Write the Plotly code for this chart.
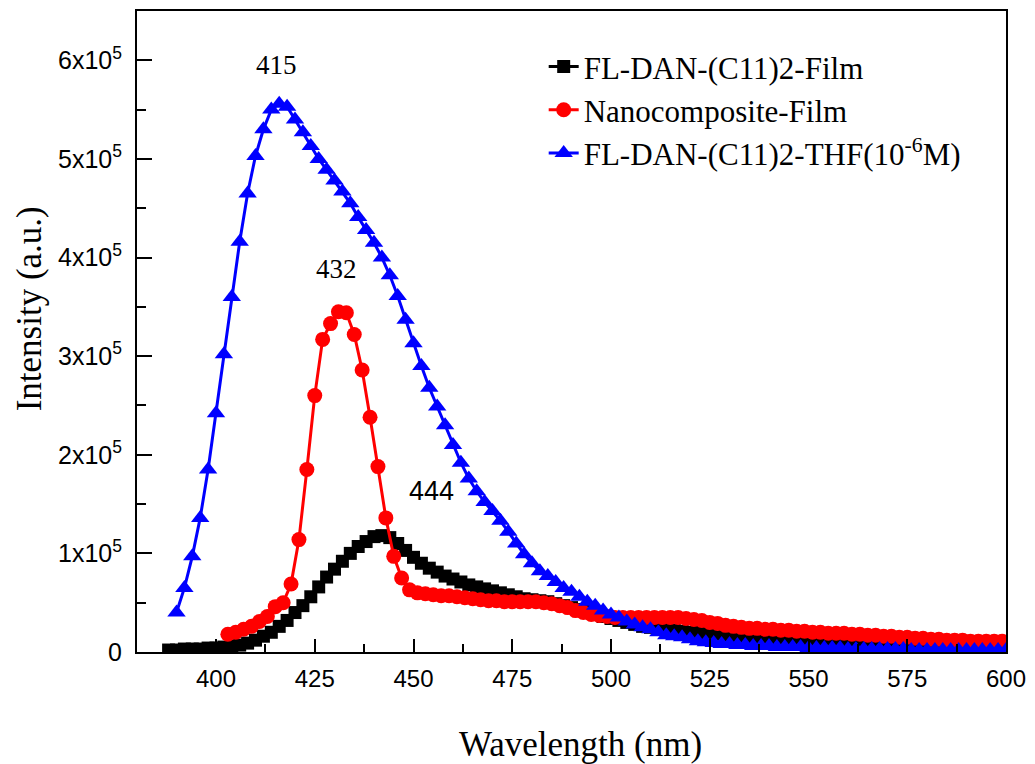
import plotly.graph_objects as go

# Wavelength grids (nm)
wl_film = list(range(388, 601, 2))
wl_nano = list(range(403, 600, 2))
wl_thf = list(range(390, 601, 2))

# Intensities in units of 1e3 (a.u.)
film = [2, 2, 3, 3, 3, 4, 4, 5, 6, 7, 9, 12, 16, 20, 26, 32, 40, 47, 56, 66,
        76, 84, 92, 100, 107, 112, 117, 118, 116, 110, 103, 96, 90, 85, 81, 77, 74, 71, 68, 66,
        64, 62, 60, 58, 56, 54, 53, 52, 51, 49, 47, 45, 43, 41, 38, 36, 34, 32, 30, 28,
        26, 25, 24, 23, 22, 21, 20, 20, 19, 19, 18, 17, 16, 15, 14, 13, 13, 12, 12, 11,
        11, 11, 10, 10, 10, 9, 9, 9, 8, 8, 8, 8, 7, 7, 7, 7, 7, 6, 6, 6,
        6, 6, 6, 5, 5, 5, 5]

nano = [18, 20, 23, 26, 31, 36, 46, 50, 69, 114, 185, 260, 317, 333, 345, 344, 322, 286, 238, 188,
        136, 97, 75, 63, 60, 59, 58, 57, 57, 56, 55, 54, 53, 52, 52, 51, 51, 51, 51, 51,
        50, 49, 47, 45, 42, 40, 38, 37, 36, 35, 35, 35, 35, 35, 35, 35, 35, 35, 34, 33,
        32, 30, 29, 27, 26, 25, 24, 24, 23, 23, 22, 22, 21, 21, 20, 20, 19, 19, 19, 18,
        18, 17, 17, 16, 16, 15, 15, 14, 14, 13, 13, 12, 12, 12, 11, 11, 11, 11, 11]

thf = [40, 65, 97, 136, 185, 242, 302, 360, 416, 465, 503, 530, 550, 556, 553, 540, 527, 513, 500, 489,
       478, 467, 455, 441, 428, 415, 400, 382, 361, 337, 313, 290, 268, 249, 230, 210, 192, 176, 163, 152,
       143, 133, 122, 110, 99, 90, 82, 77, 71, 65, 61, 56, 51, 47, 42, 38, 35, 31, 28, 25,
       23, 20, 17, 16, 15, 13, 11, 10, 9, 8, 8, 7, 7, 6, 6, 6, 5, 5, 5, 5,
       4, 4, 4, 4, 4, 3, 3, 3, 3, 3, 3, 3, 3, 2, 2, 2, 2, 2, 2, 2,
       2, 2, 2, 2, 2, 2]

series_names = ["FL-DAN-(C11)2-Film", "Nanocomposite-Film", "FL-DAN-(C11)2-THF(10<sup>-6</sup>M)"]

y_tickvals = [0, 100, 200, 300, 400, 500, 600]
y_ticktext = ["0", "1x10<sup>5</sup>", "2x10<sup>5</sup>", "3x10<sup>5</sup>",
              "4x10<sup>5</sup>", "5x10<sup>5</sup>", "6x10<sup>5</sup>"]

peak_labels = ["415", "432", "444"]
peak_x = [415.3, 430.5, 454.5]
peak_y = [595, 388, 163]

serif = "Liberation Serif, Times New Roman, serif"
sans = "Liberation Sans, Arial, sans-serif"

fig = go.Figure()
fig.add_trace(go.Scatter(x=wl_film, y=film, name=series_names[0], mode="lines+markers",
                         line=dict(color="black", width=3),
                         marker=dict(symbol="square", size=13, color="black")))
fig.add_trace(go.Scatter(x=wl_nano, y=nano, name=series_names[1], mode="lines+markers",
                         line=dict(color="#ff0000", width=3),
                         marker=dict(symbol="circle", size=15, color="#ff0000")))
fig.add_trace(go.Scatter(x=wl_thf, y=thf, name=series_names[2], mode="lines+markers",
                         line=dict(color="#0000ff", width=3),
                         marker=dict(symbol="triangle-up", size=16, color="#0000ff")))

annotations = []
for i, lab in enumerate(peak_labels):
    annotations.append(dict(x=peak_x[i], y=peak_y[i], xref="x", yref="y", text=lab,
                            showarrow=False, xanchor="center", yanchor="middle",
                            font=dict(family=serif if i < 2 else sans, size=27, color="black")))
annotations.append(dict(x=-0.124, y=0.535, xref="paper", yref="paper", text="Intensity (a.u.)",
                        textangle=-90, showarrow=False, xanchor="center", yanchor="middle",
                        font=dict(family=serif, size=35, color="black")))
annotations.append(dict(x=0.51, y=-0.145, xref="paper", yref="paper", text="Wavelength (nm)",
                        showarrow=False, xanchor="center", yanchor="middle",
                        font=dict(family=serif, size=35, color="black")))

fig.update_layout(
    width=1035, height=764,
    margin=dict(l=137, r=26, t=9, b=112),
    paper_bgcolor="white", plot_bgcolor="white",
    showlegend=True,
    legend=dict(x=0.468, y=0.955, xanchor="left", yanchor="top",
                bgcolor="rgba(0,0,0,0)", font=dict(family=serif, size=31, color="black"),
                tracegroupgap=0),
    annotations=annotations,
)
fig.update_xaxes(range=[380, 600], tick0=400, dtick=25, ticks="inside", ticklen=13, tickwidth=2,
                 tickcolor="black", showline=True, linewidth=2, linecolor="black", mirror=True,
                 showgrid=False, zeroline=False, ticklabelstandoff=4,
                 tickfont=dict(family=sans, size=24, color="black"),
                 minor=dict(ticks="inside", ticklen=8, tickwidth=2, tickcolor="black",
                            tick0=387.5, dtick=25, showgrid=False))
fig.update_yaxes(range=[0, 650], tickmode="array", tickvals=y_tickvals, ticktext=y_ticktext,
                 ticks="inside", ticklen=15, tickwidth=2, tickcolor="black",
                 showline=True, linewidth=2, linecolor="black", mirror=True,
                 showgrid=False, zeroline=False, ticklabelstandoff=8,
                 tickfont=dict(family=sans, size=25, color="black"),
                 minor=dict(ticks="inside", ticklen=9, tickwidth=2, tickcolor="black",
                            tick0=50, dtick=100, showgrid=False))

fig.write_html("out.html")
